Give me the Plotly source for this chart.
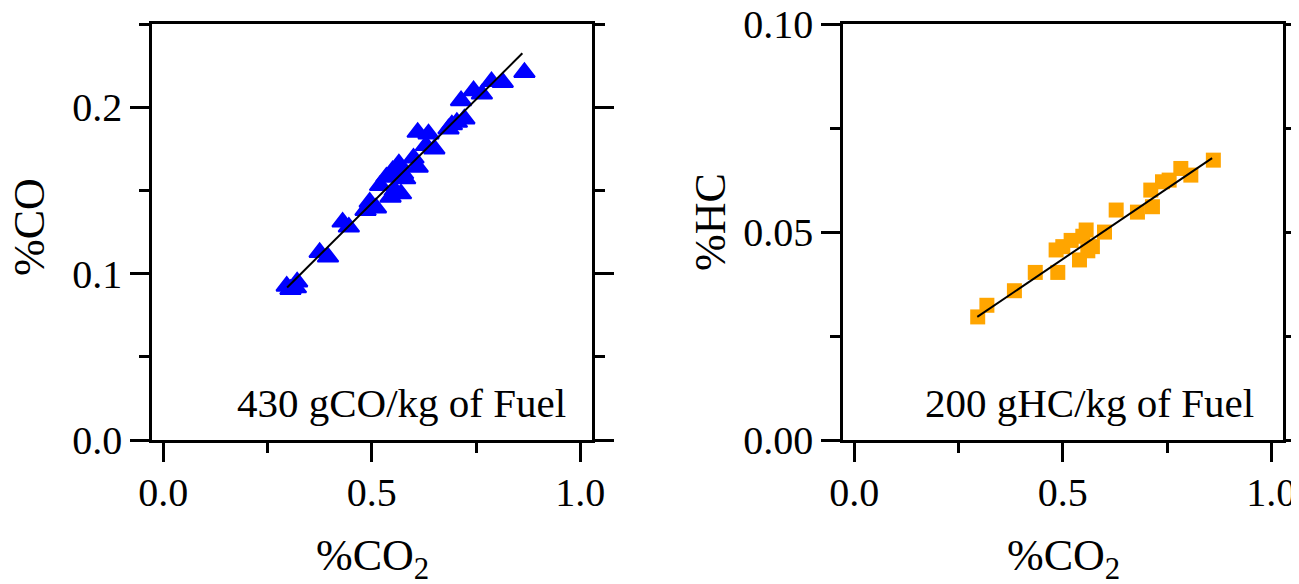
import plotly.graph_objects as go

# ---- data ----
co2_left = [0.296, 0.305, 0.321, 0.318, 0.375, 0.395, 0.430, 0.445, 0.485, 0.495,
            0.510, 0.520, 0.535, 0.545, 0.550, 0.555, 0.565, 0.570, 0.575, 0.580,
            0.600, 0.610, 0.610, 0.630, 0.636, 0.650, 0.684, 0.692, 0.704, 0.714,
            0.722, 0.744, 0.764, 0.787, 0.814, 0.866]
co_pct = [0.0925, 0.0905, 0.0950, 0.0915, 0.1128, 0.1100, 0.1310, 0.1280, 0.1380, 0.1430,
          0.1395, 0.1530, 0.1580, 0.1460, 0.1620, 0.1500, 0.1660, 0.1480, 0.1600, 0.1570,
          0.1695, 0.1640, 0.1850, 0.1770, 0.1840, 0.1750, 0.1870, 0.1895, 0.1910, 0.2040,
          0.1930, 0.2100, 0.2080, 0.2155, 0.2150, 0.2210]
fit_co_x = [0.297, 0.861]
fit_co_y = [0.0917, 0.2325]

co2_right = [0.296, 0.318, 0.384, 0.434, 0.484, 0.488, 0.500, 0.520, 0.540, 0.548,
             0.556, 0.560, 0.571, 0.600, 0.628, 0.679, 0.711, 0.715, 0.739, 0.755,
             0.783, 0.807, 0.861]
hc_pct = [0.0296, 0.0324, 0.0359, 0.0403, 0.0457, 0.0403, 0.0465, 0.0480, 0.0433, 0.0490,
          0.0505, 0.0455, 0.0465, 0.0500, 0.0553, 0.0548, 0.0601, 0.0561, 0.0621, 0.0625,
          0.0653, 0.0637, 0.0673]
fit_hc_x = [0.295, 0.858]
fit_hc_y = [0.0296, 0.0678]

label_co = "430 gCO/kg of Fuel"
label_hc = "200 gHC/kg of Fuel"

FONT = "Liberation Serif, Times New Roman, serif"
OFF = 8  # page body margin of the browser
W, H = 1299 - OFF, 584 - OFF

fig = go.Figure()
fig.add_trace(go.Scatter(x=co2_left, y=co_pct, mode="markers", xaxis="x", yaxis="y",
                         marker=dict(symbol="triangle-up", size=18, color="#0000FF",
                                     line=dict(width=2, color="#0000FF")),
                         showlegend=False))
fig.add_trace(go.Scatter(x=fit_co_x, y=fit_co_y, mode="lines", xaxis="x", yaxis="y",
                         line=dict(color="black", width=2), showlegend=False))
fig.add_trace(go.Scatter(x=co2_right, y=hc_pct, mode="markers", xaxis="x2", yaxis="y2",
                         marker=dict(symbol="square", size=15, color="#FFA500",
                                     line=dict(width=0)),
                         showlegend=False))
fig.add_trace(go.Scatter(x=fit_hc_x, y=fit_hc_y, mode="lines", xaxis="x2", yaxis="y2",
                         line=dict(color="black", width=2), showlegend=False))

def px(x):
    return (x - OFF) / W

def py(y):
    return 1 - (y - OFF) / H

ydom = [py(440), py(24)]
common_x = dict(range=[-0.027, 1.028], tickvals=[0, 0.5, 1.0], ticktext=["0.0", "0.5", "1.0"],
                ticks="outside", ticklen=19, tickwidth=2.5, tickcolor="black",
                showline=True, linewidth=2.5, linecolor="black", mirror=True,
                showgrid=False, zeroline=False, automargin=False, ticklabeloverflow="allow",
                ticklabelstandoff=-4,
                minor=dict(tickvals=[0.25, 0.75], ticks="outside", ticklen=10,
                           tickwidth=2.5, tickcolor="black", showgrid=False),
                tickfont=dict(family=FONT, size=40, color="black"))
common_y = dict(ticks="outside", ticklen=19, tickwidth=2.5, tickcolor="black",
                showline=True, linewidth=2.5, linecolor="black", mirror="ticks",
                showgrid=False, zeroline=False, automargin=False, ticklabeloverflow="allow",
                tickfont=dict(family=FONT, size=40, color="black"))

fig.update_layout(
    width=W, height=H,
    margin=dict(l=0, r=0, t=0, b=0, autoexpand=False),
    paper_bgcolor="white", plot_bgcolor="white",
    font=dict(family=FONT, color="black"),
    xaxis=dict(domain=[px(152), px(592)], anchor="y", **common_x),
    yaxis=dict(domain=ydom, anchor="x", range=[0, 0.2501],
               tickvals=[0, 0.1, 0.2], ticktext=["0.0", "0.1", "0.2"],
               minor=dict(tickvals=[0.05, 0.15, 0.25], ticks="outside", ticklen=10,
                          tickwidth=2.5, tickcolor="black", showgrid=False),
               **common_y),
    xaxis2=dict(domain=[px(843), px(1283)], anchor="y2", **common_x),
    yaxis2=dict(domain=ydom, anchor="x2", range=[0, 0.10004],
                tickvals=[0, 0.05, 0.10], ticktext=["0.00", "0.05", "0.10"],
                minor=dict(tickvals=[0.025, 0.075], ticks="outside", ticklen=10,
                           tickwidth=2.5, tickcolor="black", showgrid=False),
                **common_y),
)

annos = [
    dict(text=label_co, x=0.971, y=0.022, xref="x", yref="y", xanchor="right", yanchor="middle",
         font=dict(size=41)),
    dict(text=label_hc, x=0.964, y=0.0089, xref="x2", yref="y2", xanchor="right", yanchor="middle",
         font=dict(size=41)),
    dict(text="%CO", x=px(30), y=py(227), xref="paper", yref="paper", textangle=-90,
         xanchor="center", yanchor="middle", font=dict(size=44)),
    dict(text="%HC", x=px(710), y=py(222), xref="paper", yref="paper", textangle=-90,
         xanchor="center", yanchor="middle", font=dict(size=44)),
    dict(text="%CO<sub>2</sub>", x=px(372), y=py(558), xref="paper", yref="paper",
         xanchor="center", yanchor="middle", font=dict(size=44)),
    dict(text="%CO<sub>2</sub>", x=px(1063), y=py(558), xref="paper", yref="paper",
         xanchor="center", yanchor="middle", font=dict(size=44)),
]
for a in annos:
    a["showarrow"] = False
    a["font"]["family"] = FONT
    a["font"]["color"] = "black"
fig.update_layout(annotations=annos)

fig.write_html("out.html")
